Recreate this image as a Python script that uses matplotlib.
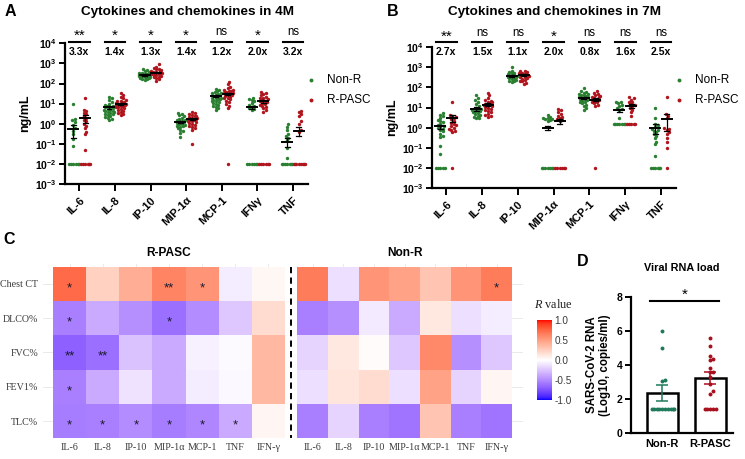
import numpy as np
import matplotlib
matplotlib.use('Agg')
import matplotlib.pyplot as plt
from matplotlib.colors import ListedColormap, Normalize
from matplotlib.lines import Line2D
import matplotlib.transforms as mtransforms

plt.rcParams['font.family'] = ['Liberation Sans', 'DejaVu Sans']
plt.rcParams['mathtext.fontset'] = 'custom'
plt.rcParams['mathtext.rm'] = 'Liberation Sans'
plt.rcParams['mathtext.bf'] = 'Liberation Sans:bold'
plt.rcParams['mathtext.it'] = 'Liberation Serif:italic'

# ---------------- data ----------------
cytokines = ['IL-6', 'IL-8', 'IP-10', 'MIP-1α', 'MCP-1', 'IFNγ', 'TNF']

nonr_4m = [
    [9.5, 1.8, 1.5, 1.2, 0.9, 0.6, 0.45, 0.3, 0.18, 0.08, 0.01, 0.01, 0.01, 0.01, 0.01, 0.01],
    [22, 18, 15, 12, 10, 9, 8, 7.5, 7, 6.5, 6, 5.5, 5, 4.8, 4.5, 4.2, 4, 3.8, 3.5, 3.2, 3, 2.8, 2.5, 2.2, 2, 1.8, 1.5],
    [550, 480, 420, 380, 350, 320, 300, 290, 280, 270, 260, 250, 240, 230, 220, 210, 200, 190, 180, 170, 160, 150],
    [3.5, 3, 2.6, 2.3, 2, 1.8, 1.6, 1.5, 1.4, 1.3, 1.2, 1.1, 1.0, 0.95, 0.9, 0.8, 0.75, 0.7, 0.6, 0.5, 0.45, 0.35, 0.22],
    [55, 48, 42, 38, 35, 32, 30, 28, 26, 24, 22, 20, 19, 18, 17, 16, 15, 14, 13, 12, 11, 10, 9, 8, 7, 6, 5],
    [20, 17, 15, 13, 11, 9, 8, 7, 6, 5.5, 5, 0.01, 0.01, 0.01, 0.01, 0.01, 0.01],
    [0.95, 0.7, 0.5, 0.3, 0.25, 0.2, 0.15, 0.06, 0.02, 0.01, 0.01, 0.01, 0.01, 0.01, 0.01, 0.01],
]
rpasc_4m = [
    [20, 5, 4.5, 3.5, 3, 2.5, 2, 1.6, 1.3, 1.0, 0.8, 0.6, 0.4, 0.3, 0.05, 0.01, 0.01, 0.01, 0.01, 0.01, 0.01],
    [35, 28, 22, 18, 15, 14, 13, 12, 11, 10.5, 10, 9.5, 9, 8.5, 8, 7.5, 7, 6.5, 6, 5.5, 5, 4.5, 4, 3.5, 3, 2.7],
    [900, 700, 600, 550, 500, 450, 420, 400, 380, 360, 350, 340, 320, 300, 290, 280, 260, 240, 220, 200, 180, 160, 130],
    [4, 3.5, 3, 2.8, 2.5, 2.3, 2.1, 2, 1.9, 1.8, 1.7, 1.6, 1.5, 1.4, 1.3, 1.2, 1.1, 1.0, 0.9, 0.8, 0.7, 0.6, 0.5, 0.1],
    [120, 90, 70, 60, 50, 45, 42, 40, 38, 35, 32, 30, 28, 26, 24, 22, 20, 18, 16, 14, 12, 10, 8, 6, 0.01],
    [38, 33, 30, 26, 22, 20, 18, 16, 15, 14, 13, 12, 11, 10, 9, 8, 7, 6, 5, 4, 0.01, 0.01, 0.01, 0.01, 0.01, 0.01],
    [4.5, 3.8, 3, 2.5, 1.3, 1.0, 0.5, 0.4, 0.01, 0.01, 0.01, 0.01, 0.01, 0.01, 0.01, 0.01],
]
mean_nonr_4m = [0.55, 6.5, 270, 1.2, 24, 6.5, 0.13]
sem_nonr_4m = [0.35, 0.8, 20, 0.15, 2.5, 1.2, 0.06]
mean_rpasc_4m = [1.9, 10, 350, 1.8, 30, 13, 0.45]
sem_rpasc_4m = [0.8, 1.2, 35, 0.2, 4, 2, 0.2]
sig_4m = ['**', '*', '*', '*', 'ns', '*', 'ns']
fold_4m = ['3.3x', '1.4x', '1.3x', '1.4x', '1.2x', '2.0x', '3.2x']

nonr_7m = [
    [5.2, 4.5, 3.8, 3, 2.5, 2.2, 2, 1.6, 1.4, 1.2, 1.1, 1.0, 0.9, 0.8, 0.65, 0.5, 0.4, 0.35, 0.12, 0.05, 0.01, 0.01, 0.01, 0.01, 0.01],
    [43, 30, 25, 20, 15, 12, 10, 9, 8.5, 8, 7.5, 7, 6.5, 6, 5.5, 5, 4.5, 4, 3.5, 3, 3],
    [1100, 700, 600, 550, 500, 450, 420, 400, 380, 360, 340, 320, 300, 280, 260, 240, 220, 200, 180],
    [4.2, 3.5, 3.2, 3, 2.8, 2.6, 2.4, 2.2, 0.01, 0.01, 0.01, 0.01, 0.01, 0.01, 0.01],
    [90, 70, 60, 55, 50, 45, 42, 40, 38, 35, 32, 30, 28, 26, 24, 22, 20, 18, 16, 14, 12, 10, 8],
    [20, 18, 16, 14, 12, 10, 9, 8, 3, 1.5, 1.5, 1.5, 1.5, 1.5, 1.5, 1.5],
    [10, 3.2, 1.5, 1.3, 1.1, 0.9, 0.8, 0.7, 0.6, 0.5, 0.4, 0.3, 0.2, 0.15, 0.04, 0.01, 0.01, 0.01, 0.01, 0.01, 0.01],
]
rpasc_7m = [
    [20, 4.5, 4, 3.5, 3, 2.8, 2.2, 1.8, 1.5, 1.3, 1.2, 1.0, 0.9, 0.8, 0.7, 0.6, 0.01],
    [55, 40, 30, 25, 22, 20, 18, 16, 15, 14, 13, 12, 11, 10, 9, 8, 7, 6, 5, 4.5, 4, 3.5],
    [700, 650, 600, 550, 500, 480, 450, 420, 400, 380, 350, 320, 300, 280, 250, 220, 200, 170, 150],
    [9, 7.5, 6, 5, 4, 3.5, 3, 2.8, 2.5, 2.2, 0.01, 0.01, 0.01, 0.01, 0.01, 0.01],
    [65, 55, 48, 42, 38, 35, 32, 30, 28, 25, 22, 20, 18, 16, 14, 12, 0.01],
    [32, 30, 25, 20, 18, 15, 13, 12, 10, 8, 6, 4, 1.5, 1.5, 1.5, 1.5, 1.5],
    [35, 5, 4, 3, 1.0, 0.9, 0.8, 0.6, 0.5, 0.3, 0.2, 0.1, 0.01],
]
mean_nonr_7m = [1.15, 8.5, 360, 1.0, 30, 7.5, 1.0]
sem_nonr_7m = [0.25, 1.8, 40, 0.25, 4, 1.5, 0.5]
mean_rpasc_7m = [3.2, 14, 410, 2.1, 25, 12, 2.7]
sem_rpasc_7m = [1.2, 2.5, 40, 0.5, 4, 2.5, 2.0]
sig_7m = ['**', 'ns', 'ns', '*', 'ns', 'ns', 'ns']
fold_7m = ['2.7x', '1.5x', '1.1x', '2.0x', '0.8x', '1.6x', '2.5x']

heat_rows = ['Chest CT', 'DLCO%', 'FVC%', 'FEV1%', 'TLC%']
heat_cols = ['IL-6', 'IL-8', 'IP-10', 'MIP-1α', 'MCP-1', 'TNF', 'IFN-γ']
r_rpasc = [
    [0.74, 0.24, 0.42, 0.62, 0.54, -0.08, 0.04],
    [-0.55, -0.36, -0.48, -0.62, -0.50, -0.24, 0.18],
    [-0.68, -0.62, -0.26, -0.36, -0.06, -0.02, 0.36],
    [-0.55, -0.36, -0.12, -0.36, -0.08, -0.03, 0.36],
    [-0.56, -0.55, -0.50, -0.56, -0.52, -0.36, 0.05],
]
stars_rpasc = [
    ['*', '', '', '**', '*', '', ''],
    ['*', '', '', '*', '', '', ''],
    ['**', '**', '', '', '', '', ''],
    ['*', '', '', '', '', '', ''],
    ['*', '*', '*', '*', '*', '*', ''],
]
r_nonr = [
    [0.66, -0.14, 0.54, 0.48, 0.30, 0.54, 0.66],
    [-0.55, -0.48, -0.09, -0.36, 0.12, -0.14, -0.08],
    [-0.18, 0.12, 0.02, -0.24, 0.60, -0.48, -0.24],
    [-0.14, 0.14, 0.18, -0.14, 0.48, -0.18, 0.05],
    [-0.55, -0.18, -0.55, -0.60, 0.30, -0.55, -0.60],
]
stars_nonr = [
    ['', '', '', '', '', '', '*'],
    ['', '', '', '', '', '', ''],
    ['', '', '', '', '', '', ''],
    ['', '', '', '', '', '', ''],
    ['', '', '', '', '', '', ''],
]

viral_groups = ['Non-R', 'R-PASC']
viral_nonr = [6.0, 5.0, 3.15, 3.05, 1.4, 1.4, 1.4, 1.4, 1.4, 1.4, 1.4, 1.4, 1.4, 1.4]
viral_rpasc = [5.6, 5.1, 4.5, 4.35, 4.3, 3.85, 3.6, 3.6, 3.3, 2.9, 2.45, 2.3, 1.4, 1.4, 1.4, 1.4, 1.4]
viral_mean = [2.35, 3.22]
viral_sem = [0.47, 0.36]

# ---------------- helpers ----------------
W, H = 745, 459
fig = plt.figure(figsize=(W / 100, H / 100), dpi=100)


def ax_px(x0, y0, x1, y1):
    return fig.add_axes([x0 / W, 1 - y1 / H, (x1 - x0) / W, (y1 - y0) / H])


def fy(y):
    return 1 - y / H


def fx(x):
    return x / W


def swarm(ypix, d=2.7, maxw=6.0):
    ypix = np.asarray(ypix, float)
    order = np.argsort(ypix)
    steps = [0.0]
    for k in range(1, 60):
        steps += [k * d * 0.5, -k * d * 0.5]
    px, py = [], []
    xs = np.zeros(len(ypix))
    for i in order:
        c = 0.0
        for c in steps:
            ok = True
            for xx, yy in zip(px, py):
                if (xx - c) ** 2 + (yy - ypix[i]) ** 2 < d * d:
                    ok = False
                    break
            if ok:
                break
        xs[i] = c
        px.append(c)
        py.append(ypix[i])
    return maxw * np.tanh(xs / maxw)


GREEN = '#2A7F31'
RED = '#B0141C'
D_GREEN = '#1E7A5A'
D_RED = '#A8101E'

# ---------------- Panels A and B ----------------
def dot_panel(box, title, title_x, letter_xy, nonr, rpasc, mn_n, se_n, mn_r, se_r,
              sig, fold, line_y, star_y, fold_y, legend_x, legend_text_x):
    ax = ax_px(*box)
    ppc = (box[2] - box[0]) / 6.82
    ppd = (box[3] - box[1]) / 7.0
    ax.set_yscale('log')
    ax.set_ylim(1e-3, 1e4)
    ax.set_xlim(-0.4, 6.42)
    off = 0.165
    for i in range(len(cytokines)):
        for vals, side, col, mn, se in ((nonr[i], -1, GREEN, mn_n[i], se_n[i]),
                                        (rpasc[i], 1, RED, mn_r[i], se_r[i])):
            v = np.asarray(vals, float)
            xo = swarm(np.log10(v) * ppd) / ppc
            ax.scatter(i + side * off + xo, v, s=6, color=col, linewidths=0, zorder=2)
            cx = i + side * off
            ax.plot([cx - 0.14, cx + 0.14], [mn, mn], color='black', lw=1.4, zorder=3)
            lo = max(mn - se, 1.2e-3)
            ax.plot([cx, cx], [lo, mn + se], color='black', lw=0.9, zorder=3)
            for yy in (lo, mn + se):
                ax.plot([cx - 0.07, cx + 0.07], [yy, yy], color='black', lw=0.9, zorder=3)
    for sp in ('top', 'right'):
        ax.spines[sp].set_visible(False)
    for sp in ('left', 'bottom'):
        ax.spines[sp].set_linewidth(1.6)
    ax.set_xticks(range(len(cytokines)))
    ax.set_xticklabels(cytokines, rotation=45, ha='right', rotation_mode='anchor',
                       fontsize=8, fontweight='bold')
    yt = [1e-3, 1e-2, 1e-1, 1e0, 1e1, 1e2, 1e3, 1e4]
    ax.set_yticks(yt)
    ax.set_yticklabels([r'$\mathbf{10^{%d}}$' % int(np.log10(t)) for t in yt], fontsize=7.5)
    ax.minorticks_off()
    ax.tick_params(axis='both', width=1.4, length=4, pad=2)
    ax.tick_params(axis='x', length=5, pad=3)
    ax.set_ylabel('ng/mL', fontsize=9, fontweight='bold', labelpad=3)
    tr = mtransforms.blended_transform_factory(ax.transData, fig.transFigure)
    for i in range(len(cytokines)):
        ax.plot([i - 0.29, i + 0.29], [fy(line_y), fy(line_y)], transform=tr,
                color='black', lw=1.5, clip_on=False)
        if sig[i] == 'ns':
            ax.text(i, fy(star_y), 'ns', transform=tr, ha='center', va='center', fontsize=8.3)
        else:
            ax.text(i, fy(star_y + 8), sig[i], transform=tr, ha='center',
                    va='baseline', fontsize=11)
        ax.text(i, fy(fold_y), fold[i], transform=tr, ha='center', va='center',
                fontsize=7.5, fontweight='bold')
    fig.text(fx(title_x), fy(12), title, ha='center', va='center', fontsize=9.7, fontweight='bold')
    fig.text(fx(letter_xy[0]), fy(letter_xy[1]), letter_xy[2], ha='center', va='center',
             fontsize=11.5, fontweight='bold')
    for yy, col, lab in ((80, GREEN, 'Non-R'), (100, RED, 'R-PASC')):
        fig.add_artist(Line2D([fx(legend_x)], [fy(yy)], marker='o', markersize=2.8,
                              color=col, markeredgewidth=0, transform=fig.transFigure))
        fig.text(fx(legend_text_x), fy(yy), lab, ha='left', va='center', fontsize=8.5)
    return ax


dot_panel((65, 43.3, 308, 184), 'Cytokines and chemokines in 4M', 187.5, (10, 12, 'A'),
          nonr_4m, rpasc_4m, mean_nonr_4m, sem_nonr_4m, mean_rpasc_4m, sem_rpasc_4m,
          sig_4m, fold_4m, 41.7, 32, 51.7, 311, 327)
dot_panel((432, 47.3, 676, 188), 'Cytokines and chemokines in 7M', 554, (393, 12, 'B'),
          nonr_7m, rpasc_7m, mean_nonr_7m, sem_nonr_7m, mean_rpasc_7m, sem_rpasc_7m,
          sig_7m, fold_7m, 42.3, 32.5, 52.3, 679, 695)

# ---------------- Panel C heatmaps ----------------
def srgb2lab(rgb):
    rgb = np.asarray(rgb, float)
    lin = np.where(rgb <= 0.04045, rgb / 12.92, ((rgb + 0.055) / 1.055) ** 2.4)
    M = np.array([[0.4124, 0.3576, 0.1805], [0.2126, 0.7152, 0.0722], [0.0193, 0.1192, 0.9505]])
    xyz = M @ lin / np.array([0.95047, 1.0, 1.08883])
    f = np.where(xyz > 0.008856, np.cbrt(xyz), 7.787 * xyz + 16 / 116)
    return np.array([116 * f[1] - 16, 500 * (f[0] - f[1]), 200 * (f[1] - f[2])])


def lab2srgb(lab):
    L, a, b = lab
    fy_ = (L + 16) / 116
    fx_ = fy_ + a / 500
    fz_ = fy_ - b / 200
    f = np.array([fx_, fy_, fz_])
    xyz = np.where(f ** 3 > 0.008856, f ** 3, (f - 16 / 116) / 7.787) * np.array([0.95047, 1.0, 1.08883])
    Mi = np.array([[3.2406, -1.5372, -0.4986], [-0.9689, 1.8758, 0.0415], [0.0557, -0.2040, 1.0570]])
    lin = Mi @ xyz
    lin = np.clip(lin, 0, 1)
    rgb = np.where(lin <= 0.0031308, 12.92 * lin, 1.055 * lin ** (1 / 2.4) - 0.055)
    return np.clip(rgb, 0, 1)


lab_b = srgb2lab([0, 0, 1])
lab_w = srgb2lab([1, 1, 1])
lab_r = srgb2lab([1, 0, 0])
cols = []
for t in np.linspace(-1, 1, 256):
    if t < 0:
        lab = lab_w + (-t) * (lab_b - lab_w)
    else:
        lab = lab_w + t * (lab_r - lab_w)
    cols.append(lab2srgb(lab))
cmap = ListedColormap(cols)
norm = Normalize(-1, 1)

SERIF = ['Liberation Serif', 'DejaVu Serif']
GREY = '#3A3A3A'


def heat(box, R, stars, left_ext, right_ext, show_rows, title, title_x):
    ax = ax_px(*box)
    R = np.asarray(R)
    nr, nc = R.shape
    ax.set_xlim(-0.5 - left_ext, nc - 0.5 + right_ext)
    ax.set_ylim(nr - 0.5, -0.5 - 0.09)
    for j in range(nc):
        ax.plot([j, j], [-0.6, nr], color='#E6E6E6', lw=0.6, zorder=0)
    for i in range(nr):
        ax.plot([-2, nc + 1], [i, i], color='#E6E6E6', lw=0.6, zorder=0)
    ax.pcolormesh(np.arange(nc + 1) - 0.5, np.arange(nr + 1) - 0.5, R, cmap=cmap, norm=norm,
                  edgecolors='none', zorder=1)
    for i in range(nr):
        for j in range(nc):
            if stars[i][j]:
                ax.annotate(stars[i][j], (j, i), xytext=(0, -5.2), textcoords='offset points',
                            ha='center', va='baseline', fontsize=9.5, color='#1A1A2E', zorder=3)
    for sp in ax.spines.values():
        sp.set_visible(False)
    ax.set_xticks(range(nc))
    ax.set_xticklabels(heat_cols, family=SERIF, fontsize=7.2, color=GREY)
    ax.tick_params(axis='both', length=0, pad=3.5)
    ax.set_yticks(range(nr))
    if show_rows:
        ax.set_yticklabels(heat_rows, family=SERIF, fontsize=7.2, color=GREY)
    else:
        ax.set_yticklabels([])
    fig.text(fx(title_x), fy(252.5), title, ha='center', va='center', fontsize=8.6,
             fontweight='bold')
    return ax


heat((43, 263.5, 285, 438.3), r_rpasc, stars_rpasc, 0.30, 0.0, True, 'R-PASC', 169)
heat((297.3, 263.5, 523, 438.3), r_nonr, stars_nonr, 0.0, 0.36, False, 'Non-R', 405)
fig.add_artist(Line2D([fx(290.7), fx(290.7)], [fy(267), fy(438)], color='black', lw=1.4,
                      linestyle=(0, (3.2, 2.2)), transform=fig.transFigure))
fig.text(fx(9), fy(240), 'C', ha='center', va='center', fontsize=11.5, fontweight='bold')

cax = ax_px(536.7, 320, 551.5, 400)
cb = fig.colorbar(plt.cm.ScalarMappable(norm=norm, cmap=cmap), cax=cax, ticks=[-1, -0.5, 0, 0.5, 1])
cb.outline.set_visible(False)
cb.ax.set_yticklabels(['-1.0', '-0.5', '0.0', '0.5', '1.0'], fontsize=7.2, color=GREY)
cb.ax.tick_params(length=0, pad=2)
fig.text(fx(553), fy(305), r'$\mathit{R}$ value', ha='center', va='center', fontsize=8.8,
         family=SERIF, color='#222222')

# ---------------- Panel D ----------------
axD = ax_px(630.7, 296.7, 733, 433.3)
axD.set_ylim(0, 8)
axD.set_xlim(-0.66, 1.47)
ppu = (433.3 - 296.7) / 8.0
ppcD = (733 - 630.7) / 2.13
for k, (vals, col) in enumerate(((viral_nonr, D_GREEN), (viral_rpasc, D_RED))):
    axD.bar(k, viral_mean[k], width=0.66, color='white', edgecolor='black', linewidth=1.8, zorder=1)
    v = np.asarray(vals, float)
    xo = swarm(v * ppu, d=3.0, maxw=16) / ppcD
    axD.scatter(k + xo, v, s=8, color=col, linewidths=0, zorder=3)
    axD.errorbar(k, viral_mean[k], yerr=viral_sem[k], color=col, capsize=4.5, lw=1.1,
                 capthick=1.1, zorder=2)
for sp in ('top', 'right'):
    axD.spines[sp].set_visible(False)
for sp in ('left', 'bottom'):
    axD.spines[sp].set_linewidth(1.6)
axD.set_xticks([0, 1])
axD.set_xticklabels(viral_groups, fontsize=8, fontweight='bold')
axD.set_yticks([0, 2, 4, 6, 8])
axD.set_yticklabels(['0', '2', '4', '6', '8'], fontsize=7.5, fontweight='bold')
axD.tick_params(axis='both', width=1.4, length=4, pad=2)
axD.tick_params(axis='x', length=0, pad=4)
axD.set_ylabel('SARS-CoV-2 RNA\n(Log10, copies/ml)', fontsize=8.3, fontweight='bold',
               labelpad=4, linespacing=1.1)
trD = mtransforms.blended_transform_factory(axD.transData, fig.transFigure)
axD.plot([-0.26, 1.18], [fy(300.7), fy(300.7)], transform=trD, color='black', lw=1.5, clip_on=False)
axD.text(0.46, fy(299), '*', transform=trD, ha='center', va='baseline', fontsize=11)
fig.text(fx(681.7), fy(268.3), 'Viral RNA load', ha='center', va='center', fontsize=7.8,
         fontweight='bold')
fig.text(fx(583), fy(262), 'D', ha='center', va='center', fontsize=11.5, fontweight='bold')

fig.savefig('out.png', dpi=100)
